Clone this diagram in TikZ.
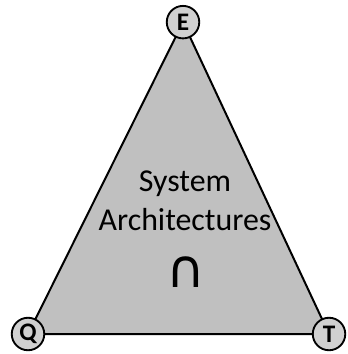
\documentclass[tikz,border=0pt]{standalone}
\usepackage{xcolor}
\usepackage{tikz}
\usepackage{fontspec}
\setmainfont{Carlito}
\newfontfamily\symfont{DejaVu Sans}
\definecolor{archgray}{HTML}{c0c0c0}
\definecolor{cornergray}{HTML}{d0d0d0}

\begin{document}
\begin{tikzpicture}[x=1cm,y=1cm]
  \tikzset{corner/.style={circle,draw=black,fill=cornergray,line width=1.4pt,minimum size=0.86cm,inner sep=0pt,font=\fontsize{19}{21}\selectfont\bfseries}}
  \useasboundingbox (0,0) rectangle (9.181,9.366);
  \coordinate (e) at (4.842,8.780);
  \coordinate (q) at (0.741,0.529);
  \coordinate (t) at (8.705,0.529);
  \filldraw[fill=archgray,draw=black,line width=1.5pt,line join=round] (e) -- (q) -- (t) -- cycle;
  \node[align=center,font=\fontsize{24}{29}\selectfont] (arch) at (4.895,4.048) {System\\Architectures};
  \node[font=\symfont\fontsize{40}{44}\selectfont] (cap) at (4.921,2.169) {∩};
  \node[corner] (enode) at (e) {E};
  \node[corner] (qnode) at (q) {Q};
  \node[corner] (tnode) at (t) {T};
\end{tikzpicture}
\end{document}
